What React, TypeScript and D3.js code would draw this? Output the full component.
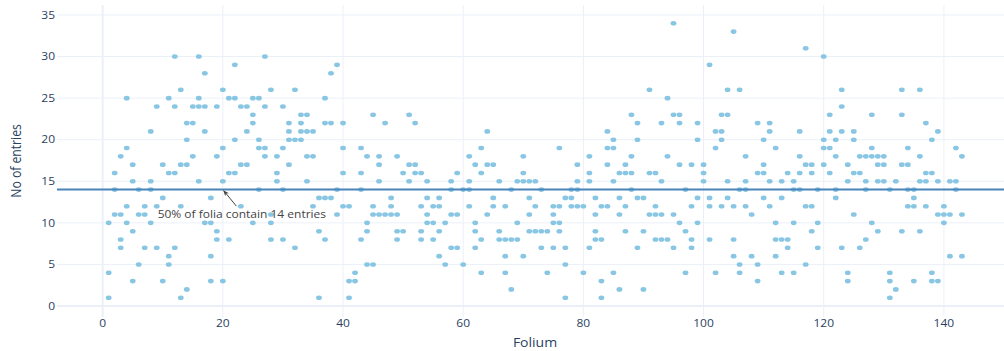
import React from 'react';
import * as d3 from 'd3';

const WIDTH = 1004;
const HEIGHT = 351;

// entries counted on each folium, index 0 = folium 1
const entriesPerFolium: number[][] = [
  // 1-10
  [10, 4, 1], [16, 14, 11], [18, 11, 8, 7], [25, 19, 12, 10], [17, 15, 9, 3], [14, 11, 5], [12, 11, 7], [21, 15, 14, 10], [24, 12, 7], [17, 13, 3],
  // 11-20
  [25, 16, 6, 5], [30, 24, 16, 7], [26, 17, 12, 1], [22, 20, 17, 2], [24, 22, 18], [30, 25, 24, 15], [28, 24, 21, 10], [13, 10, 6, 3], [24, 18, 9, 8], [26, 19, 15, 3],
  // 21-30
  [25, 16, 8], [29, 25, 20, 16], [24, 17, 12], [24, 21, 17], [25, 23, 22, 10], [25, 20, 19, 14], [30, 24, 19, 18], [26, 11, 10, 8], [18, 16, 15], [24, 19, 14, 8],
  // 31-40
  [22, 21, 20, 17], [26, 20, 7], [23, 22, 21, 20], [23, 21, 18, 15], [21, 18, 12], [13, 9, 1], [25, 22, 13, 8], [28, 22, 13], [29, 14, 11], [22, 19, 16, 12],
  // 41-50
  [12, 3, 1], [4, 3], [19, 16, 14, 8], [18, 10, 9, 5], [23, 12, 11, 5], [18, 17, 15, 11], [22, 11], [13, 12, 11], [18, 11, 9, 8], [16, 9],
  // 51-60
  [23, 17, 15], [22, 17, 16], [16, 12, 9, 8], [15, 13, 11, 10], [12, 10, 8], [13, 12, 9, 6], [10, 5], [15, 14, 11, 7], [16, 11, 7], [14, 5],
  // 61-70
  [18, 15, 14, 12], [17, 10, 9, 7], [19, 16, 8, 4], [21, 17, 11], [17, 13, 12], [15, 9, 8], [12, 8, 6, 4], [14, 8, 2], [15, 10, 8], [18, 16, 15, 6],
  // 71-80
  [15, 13, 11, 9], [15, 12, 9], [14, 9, 7], [9, 4], [12, 11, 10, 7], [19, 12, 10, 9], [13, 7, 5, 1], [14, 13, 12], [17, 15, 14, 12], [12, 4],
  // 81-90
  [18, 16, 15, 7], [13, 11, 9, 8], [12, 8, 3, 1], [21, 19, 17, 12], [20, 19, 15, 4], [16, 13, 11, 2], [17, 16, 12, 9], [23, 18, 16, 14], [22, 20, 13, 7], [13, 9, 2],
  // 91-100
  [26, 16, 11], [16, 12, 11, 8], [22, 15, 11, 8], [25, 18, 8], [34, 23, 11, 7], [23, 22, 17, 10], [14, 9, 4], [17, 12, 8, 7], [22, 20, 13, 10], [17, 16, 15],
  // 101-110
  [29, 13, 12, 8], [21, 19, 4], [23, 21, 20, 12], [26, 23, 15, 13], [33, 12, 8, 6], [26, 14, 5, 4], [18, 15, 14, 12], [11, 6], [22, 16, 5, 3], [20, 17, 16, 13],
  // 111-120
  [22, 21, 15, 12], [19, 10, 8, 6], [15, 13, 8, 4], [16, 8, 7], [15, 14, 10, 4], [21, 18, 16, 14], [31, 17, 12, 5], [17, 16, 12, 9], [14, 10, 7], [30, 20, 19, 17],
  // 121-130
  [23, 21, 19, 16], [20, 18, 14, 13], [26, 24, 21, 7], [17, 15, 4, 3], [21, 20, 16, 11], [18, 16, 7], [18, 15, 14, 8], [23, 19, 18, 10], [18, 17, 15, 9], [18, 17, 15],
  // 131-143
  [14, 4, 3, 1], [15, 2], [26, 23, 17, 9], [19, 17, 14, 12], [14, 13, 12, 3], [26, 18, 15, 9], [22, 16, 15, 12], [20, 16, 4, 3], [21, 15, 11, 3], [12, 11, 10], [15, 11, 6], [19, 15, 14], [18, 11, 6],
];

const xTicks = [0, 20, 40, 60, 80, 100, 120, 140];
const yTicks = [0, 5, 10, 15, 20, 25, 30, 35];
const medianEntries = 14;
const annotationFolium = 20;
const annotationText = '50% of folia contain 14 entries';
const xTitle = 'Folium';
const yTitle = 'No of entries';

const FONT = '"Open Sans", verdana, arial, sans-serif';
const TEXT_COLOR = '#2a3f5f';
const GRID = '#ebf0f8';
const DOT = '#88c6e3';
// picture is a bit squashed vertically
const SY = 0.87;

const PLOT = { l: 57, r: 1013, t: 5, b: 317 };

const App = () => {
  const xScale = d3.scaleLinear().domain([-7.6, 151.5]).range([PLOT.l, PLOT.r]);
  const yScale = d3.scaleLinear().domain([-1.32, 36.2]).range([PLOT.b, PLOT.t]);

  const points = entriesPerFolium.flatMap((ys, i) => ys.map((n) => ({ folium: i + 1, n })));

  const hx = xScale(annotationFolium);
  const hy = yScale(medianEntries);

  return (
    <svg
      width={WIDTH}
      height={HEIGHT}
      style={{ position: 'absolute', left: 0, top: 0, background: '#fff' }}
      fontFamily={FONT}
    >
      <defs>
        <marker id="head" viewBox="0 0 10 10" refX="9" refY="5" markerWidth="6" markerHeight="6" orient="auto-start-reverse">
          <path d="M0,1 L10,5 L0,9 L3,5 Z" fill="#444" />
        </marker>
      </defs>

      {/* grid */}
      <g>
        {yTicks.map((t) => (
          <line key={`gy${t}`} x1={PLOT.l} x2={PLOT.r} y1={yScale(t)} y2={yScale(t)} stroke={GRID} strokeWidth={t === 0 ? 2 : 1} />
        ))}
        {xTicks.map((t) => (
          <line key={`gx${t}`} x1={xScale(t)} x2={xScale(t)} y1={PLOT.t} y2={PLOT.b} stroke={GRID} strokeWidth={t === 0 ? 2 : 1} />
        ))}
      </g>

      {/* tick labels */}
      <g fill={TEXT_COLOR} fontSize={12}>
        {yTicks.map((t) => (
          <text key={`ty${t}`} transform={`translate(55,${yScale(t) + 3.7}) scale(1,${SY})`} textAnchor="end">
            {t}
          </text>
        ))}
        {xTicks.map((t) => (
          <text key={`tx${t}`} transform={`translate(${xScale(t)},326.7) scale(1,${SY})`} textAnchor="middle">
            {t}
          </text>
        ))}
      </g>

      {/* axis titles */}
      <g fill={TEXT_COLOR} fontSize={14}>
        <text transform={`translate(535,346.5) scale(1,${SY})`} textAnchor="middle">
          {xTitle}
        </text>
        <text transform={`translate(20.7,${(PLOT.t + PLOT.b) / 2}) scale(1,${SY}) rotate(-90)`} textAnchor="middle">
          {yTitle}
        </text>
      </g>

      {/* points */}
      <g fill={DOT}>
        {points.map((p, i) => (
          <ellipse key={i} cx={xScale(p.folium)} cy={yScale(p.n)} rx={2.9} ry={2.3} />
        ))}
      </g>

      {/* median line */}
      <line x1={PLOT.l} x2={PLOT.r} y1={hy} y2={hy} stroke="#4a84ba" strokeWidth={2} />

      {/* annotation */}
      <line x1={hx + 13.5} y1={hy + 16.5} x2={hx + 0.8} y2={hy + 1} stroke="#444" strokeWidth={1} markerEnd="url(#head)" />
      <text
        transform={`translate(${hx + 19},${hy + 28.6}) scale(1,${SY})`}
        textAnchor="middle"
        fontSize={12}
        fill="#444"
      >
        {annotationText}
      </text>
    </svg>
  );
};

export default App;
